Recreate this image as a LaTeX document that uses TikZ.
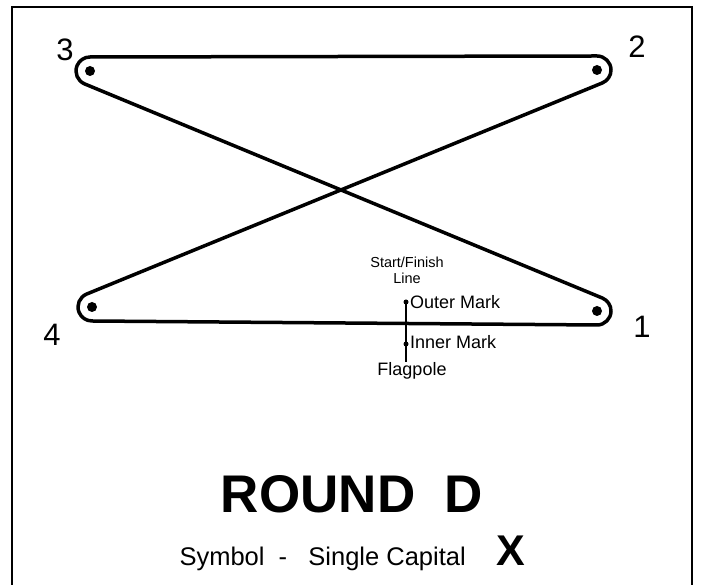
\documentclass[tikz,border=0pt]{standalone}
\usepackage{fontspec}
\setmainfont{Liberation Sans}
\usetikzlibrary{positioning}

\begin{document}
\begin{tikzpicture}[
  x=1pt, y=1pt,
  course/.style={line width=3.5pt, line join=round},
  buoy/.style={circle, fill=black, inner sep=0pt, minimum size=10pt},
  pin/.style={circle, fill=black, inner sep=0pt, minimum size=5pt},
  num/.style={inner sep=0pt, font=\fontsize{31}{31}\selectfont},
  lbl/.style={inner sep=0pt, font=\fontsize{18}{18}\selectfont},
  tiny/.style={inner sep=0pt, align=center, font=\fontsize{14.5}{16}\selectfont}
]
\useasboundingbox (0,0) rectangle (701,585);
% frame
\draw[line width=2pt] (12,-10) rectangle (692,578);

% marks
\node[buoy] (m1) at (597,274) {};
\node[buoy] (m2) at (597,515) {};
\node[buoy] (m3) at (90,514) {};
\node[buoy] (m4) at (92,278) {};

\node[num] (n1) at (642,258) {1};
\node[num] (n2) at (637,538) {2};
\node[num] (n3) at (65,535) {3};
\node[num] (n4) at (52,250) {4};

% course line round the marks
\draw[course]
  ([shift={(90:14)}]m3.center) -- ([shift={(90:14)}]m2.center)
  arc[start angle=90, end angle=-67.74, radius=14]
  -- ([shift={(112.26:14)}]m4.center)
  arc[start angle=112.26, end angle=270, radius=14]
  -- ([shift={(-90:14)}]m1.center)
  arc[start angle=-90, end angle=67.53, radius=14]
  -- ([shift={(247.53:14)}]m3.center)
  arc[start angle=247.53, end angle=90, radius=14]
  -- cycle;

% start/finish line
\node[tiny] (sf) at (407,315) {Start/Finish\\Line};
\node[pin] (outer) at (406,283) {};
\node[pin] (inner) at (406,241) {};
\coordinate (pole) at (406,223);
\draw[line width=1.3pt] (outer.center) -- (pole);
\node[lbl, anchor=base west] (outerlbl) at (410,276) {Outer Mark};
\node[lbl, anchor=base west] (innerlbl) at (410,236) {Inner Mark};
\node[lbl, anchor=base] (polelbl) at (412,209) {Flagpole};

% title
\node[anchor=base, font=\fontsize{53}{53}\selectfont\bfseries] (title) at (352,72) {ROUND\ \ D};
\node[anchor=base west, font=\fontsize{25.5}{26}\selectfont] (symbol) at (176,19) {Symbol\ \ -\ \ \ Single Capital};
\node[anchor=base, font=\fontsize{43}{43}\selectfont\bfseries] (sym) at (511,19) {X};
\end{tikzpicture}
\end{document}
